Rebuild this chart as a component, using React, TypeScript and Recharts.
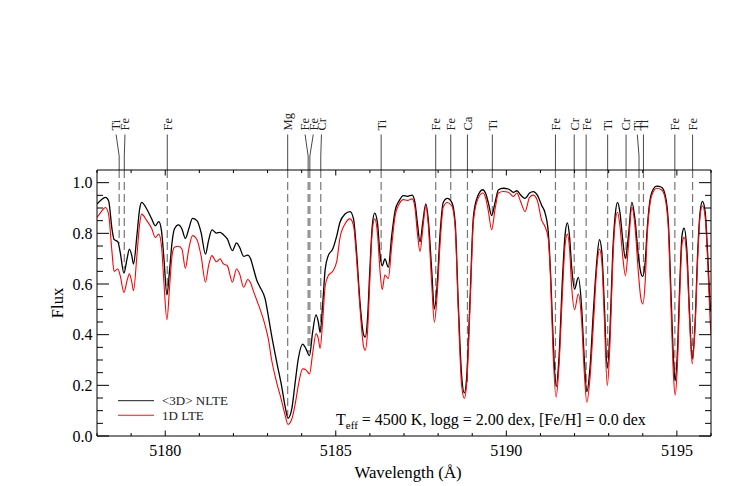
import React from 'react';
import { LineChart, Line, XAxis, YAxis, ReferenceLine, ReferenceDot } from 'recharts';

const FONT = '"Liberation Serif", "Times New Roman", Times, serif';

// Spectrum sampling (Å) and fluxes
const wavelength = [
  5178.0, 5178.12, 5178.25, 5178.34, 5178.44, 5178.5, 5178.61, 5178.68, 5178.79, 5178.88,
  5178.95, 5179.02, 5179.07, 5179.17, 5179.25, 5179.31, 5179.45, 5179.6, 5179.71, 5179.81,
  5179.89, 5179.96, 5180.05, 5180.13, 5180.2, 5180.27, 5180.39, 5180.49, 5180.59, 5180.69,
  5180.8, 5180.93, 5181.05, 5181.18, 5181.27, 5181.37, 5181.5, 5181.61, 5181.7, 5181.82,
  5181.97, 5182.09, 5182.18, 5182.3, 5182.42, 5182.5, 5182.59, 5182.69, 5182.78, 5182.93,
  5183.02, 5183.12, 5183.27, 5183.41, 5183.51, 5183.6, 5183.71, 5183.81, 5183.9, 5184.03,
  5184.13, 5184.23, 5184.32, 5184.42, 5184.49, 5184.54, 5184.62, 5184.69, 5184.78, 5184.91,
  5185.03, 5185.12, 5185.27, 5185.42, 5185.52, 5185.61, 5185.71, 5185.81, 5185.86, 5185.93,
  5186.0, 5186.07, 5186.14, 5186.22, 5186.3, 5186.36, 5186.44, 5186.54, 5186.64, 5186.74,
  5186.86, 5186.98, 5187.1, 5187.24, 5187.32, 5187.39, 5187.47, 5187.55, 5187.64, 5187.71,
  5187.81, 5187.89, 5187.97, 5188.06, 5188.15, 5188.27, 5188.4, 5188.5, 5188.59, 5188.69,
  5188.77, 5188.84, 5188.94, 5189.03, 5189.13, 5189.31, 5189.4, 5189.47, 5189.57, 5189.67,
  5189.77, 5189.91, 5190.06, 5190.21, 5190.31, 5190.42, 5190.55, 5190.68, 5190.79, 5190.91,
  5191.04, 5191.13, 5191.23, 5191.3, 5191.37, 5191.46, 5191.54, 5191.65, 5191.72, 5191.79,
  5191.85, 5191.92, 5192.0, 5192.11, 5192.21, 5192.28, 5192.36, 5192.45, 5192.55, 5192.65,
  5192.73, 5192.8, 5192.87, 5192.96, 5193.04, 5193.12, 5193.19, 5193.26, 5193.33, 5193.41,
  5193.49, 5193.58, 5193.68, 5193.77, 5193.87, 5193.94, 5194.0, 5194.07, 5194.13, 5194.21,
  5194.31, 5194.41, 5194.55, 5194.65, 5194.75, 5194.83, 5194.9, 5194.95, 5195.01, 5195.09,
  5195.15, 5195.21, 5195.29, 5195.37, 5195.45, 5195.53, 5195.61, 5195.68, 5195.75, 5195.83,
  5195.9, 5195.97, 5196.0,
];

const flux3DNLTE = [
  0.916, 0.932, 0.942, 0.929, 0.817, 0.776, 0.767, 0.725, 0.643, 0.699,
  0.738, 0.712, 0.679, 0.791, 0.896, 0.922, 0.898, 0.858, 0.83, 0.846,
  0.811, 0.705, 0.557, 0.659, 0.764, 0.817, 0.833, 0.817, 0.78, 0.817,
  0.859, 0.85, 0.804, 0.718, 0.771, 0.814, 0.801, 0.804, 0.795, 0.778,
  0.732, 0.762, 0.745, 0.709, 0.714, 0.701, 0.659, 0.613, 0.587, 0.541,
  0.475, 0.396, 0.291, 0.199, 0.12, 0.07, 0.107, 0.212, 0.304, 0.363,
  0.343, 0.317, 0.409, 0.478, 0.449, 0.409, 0.528, 0.659, 0.712, 0.738,
  0.791, 0.843, 0.876, 0.886, 0.857, 0.725, 0.528, 0.403, 0.39, 0.462,
  0.659, 0.83, 0.88, 0.843, 0.712, 0.672, 0.699, 0.666, 0.791, 0.89,
  0.929, 0.949, 0.946, 0.951, 0.922, 0.843, 0.767, 0.843, 0.916, 0.857,
  0.659, 0.501, 0.593, 0.804, 0.922, 0.938, 0.922, 0.843, 0.528, 0.238,
  0.17, 0.238, 0.554, 0.857, 0.935, 0.972, 0.955, 0.922, 0.87, 0.922,
  0.972, 0.978, 0.975, 0.962, 0.968, 0.951, 0.938, 0.959, 0.965, 0.951,
  0.909, 0.883, 0.804, 0.633, 0.39, 0.195, 0.3, 0.633, 0.791, 0.841,
  0.791, 0.659, 0.58, 0.626, 0.501, 0.317, 0.175, 0.264, 0.488, 0.686,
  0.775, 0.725, 0.528, 0.267, 0.422, 0.725, 0.87, 0.922, 0.883, 0.778,
  0.701, 0.791, 0.922, 0.857, 0.712, 0.646, 0.63, 0.686, 0.817, 0.929,
  0.975, 0.986, 0.982, 0.955, 0.843, 0.554, 0.304, 0.218, 0.317, 0.62,
  0.791, 0.82, 0.738, 0.488, 0.304, 0.435, 0.725, 0.883, 0.926, 0.883,
  0.725, 0.53, 0.49,
];

const flux1DLTE = [
  0.863, 0.885, 0.902, 0.875, 0.725, 0.65, 0.659, 0.633, 0.567, 0.613,
  0.64, 0.607, 0.574, 0.712, 0.837, 0.876, 0.852, 0.82, 0.784, 0.797,
  0.751, 0.61, 0.459, 0.593, 0.712, 0.745, 0.749, 0.738, 0.662, 0.738,
  0.791, 0.775, 0.712, 0.607, 0.672, 0.712, 0.688, 0.699, 0.68, 0.672,
  0.607, 0.659, 0.64, 0.587, 0.618, 0.605, 0.57, 0.534, 0.501, 0.436,
  0.385, 0.3, 0.21, 0.14, 0.085, 0.046, 0.067, 0.126, 0.199, 0.265,
  0.26, 0.245, 0.324, 0.403, 0.383, 0.346, 0.462, 0.593, 0.633, 0.65,
  0.69, 0.78, 0.837, 0.857, 0.83, 0.7, 0.505, 0.357, 0.339, 0.409,
  0.62, 0.811, 0.857, 0.804, 0.646, 0.578, 0.635, 0.622, 0.751, 0.87,
  0.916, 0.933, 0.93, 0.936, 0.903, 0.804, 0.728, 0.817, 0.909, 0.837,
  0.607, 0.449, 0.554, 0.764, 0.903, 0.922, 0.909, 0.824, 0.501, 0.199,
  0.149, 0.212, 0.528, 0.837, 0.922, 0.959, 0.936, 0.89, 0.814, 0.896,
  0.959, 0.965, 0.962, 0.946, 0.959, 0.925, 0.886, 0.942, 0.951, 0.929,
  0.85, 0.828, 0.778, 0.607, 0.33, 0.153, 0.27, 0.58, 0.751, 0.797,
  0.745, 0.58, 0.499, 0.56, 0.449, 0.264, 0.133, 0.225, 0.435, 0.659,
  0.738, 0.686, 0.475, 0.199, 0.37, 0.686, 0.843, 0.883, 0.83, 0.712,
  0.633, 0.751, 0.903, 0.83, 0.646, 0.547, 0.521, 0.607, 0.791, 0.916,
  0.965, 0.978, 0.972, 0.942, 0.817, 0.501, 0.238, 0.162, 0.264, 0.58,
  0.758, 0.784, 0.705, 0.462, 0.284, 0.422, 0.699, 0.87, 0.909, 0.863,
  0.699, 0.47, 0.4,
];

// Line identifications
const lineElements = ['Ti', 'Fe', 'Fe', 'Mg', 'Fe', 'Fe', 'Cr', 'Ti', 'Fe', 'Fe', 'Ca', 'Ti', 'Fe', 'Cr', 'Fe', 'Ti', 'Cr', 'Ti', 'Ti', 'Fe', 'Fe'];
const lineCenters = [5178.65, 5178.8, 5180.06, 5183.59, 5184.19, 5184.24, 5184.56, 5186.33, 5187.93, 5188.37, 5188.86, 5189.59, 5191.44, 5191.99, 5192.34, 5192.97, 5193.51, 5193.89, 5194.02, 5194.94, 5195.46];
const labelPositions = [5178.56, 5178.82, 5180.06, 5183.59, 5184.1, 5184.34, 5184.58, 5186.33, 5187.93, 5188.37, 5188.86, 5189.59, 5191.44, 5191.99, 5192.34, 5192.97, 5193.51, 5193.84, 5194.02, 5194.94, 5195.46];
const lineDepths = [0.76, 0.66, 0.56, 0.08, 0.33, 0.33, 0.41, 0.68, 0.53, 0.93, 0.2, 0.87, 0.2, 0.58, 0.18, 0.27, 0.7, 0.67, 0.63, 0.22, 0.31];

// Axis ticks
const xTicks = [5178, 5179, 5180, 5181, 5182, 5183, 5184, 5185, 5186, 5187, 5188, 5189, 5190, 5191, 5192, 5193, 5194, 5195, 5196];
const xMajorTicks = [5180, 5185, 5190, 5195];
const yTicks = [0, 0.05, 0.1, 0.15, 0.2, 0.25, 0.3, 0.35, 0.4, 0.45, 0.5, 0.55, 0.6, 0.65, 0.7, 0.75, 0.8, 0.85, 0.9, 0.95, 1.0];
const yMajorTicks = [0, 0.2, 0.4, 0.6, 0.8, 1.0];

const X_DOMAIN: [number, number] = [5178, 5196];
const Y_DOMAIN: [number, number] = [0, 1.05];
const Y_TOP = 1.05;
const Y_LABEL = 1.206;
const Y_CONN_START = 1.19;
const Y_CONN_BEND = 1.105;

const data = wavelength.map((w, i) => ({ w, nlte: flux3DNLTE[i], lte: flux1DLTE[i] }));

const isMajorY = (v: number) => yMajorTicks.some((m) => Math.abs(m - v) < 1e-6);

const BottomTick = (props: any) => {
  const { x, y, payload } = props;
  const v = payload.value;
  const major = xMajorTicks.includes(v);
  return (
    <g>
      <line x1={x} y1={y} x2={x} y2={y - (major ? 5.5 : 3)} stroke="#000" strokeWidth={1} />
      {major && (
        <text x={x} y={y + 20} textAnchor="middle" fontSize={16} fontFamily={FONT} fill="#000">
          {v}
        </text>
      )}
    </g>
  );
};

const TopTick = (props: any) => {
  const { x, y, payload } = props;
  const major = xMajorTicks.includes(payload.value);
  return <line x1={x} y1={y} x2={x} y2={y + (major ? 5.5 : 3)} stroke="#000" strokeWidth={1} />;
};

const LeftTick = (props: any) => {
  const { x, y, payload } = props;
  const v = payload.value;
  const major = isMajorY(v);
  return (
    <g>
      <line x1={x} y1={y} x2={x + (major ? 12 : 6)} y2={y} stroke="#000" strokeWidth={1} />
      {major && (
        <text x={x - 4.5} y={y + 5.5} textAnchor="end" fontSize={16} fontFamily={FONT} fill="#000">
          {v.toFixed(1)}
        </text>
      )}
    </g>
  );
};

const RightTick = (props: any) => {
  const { x, y, payload } = props;
  const major = isMajorY(payload.value);
  return <line x1={x} y1={y} x2={x - (major ? 12 : 6)} y2={y} stroke="#000" strokeWidth={1} />;
};

export default function App() {
  return (
    <LineChart
      width={739}
      height={478}
      data={data}
      margin={{ top: 132, right: 6, bottom: 20, left: 29 }}
      style={{ fontFamily: FONT }}
    >
      <XAxis
        dataKey="w"
        type="number"
        domain={X_DOMAIN}
        allowDataOverflow
        ticks={xTicks}
        interval={0}
        height={30}
        tickSize={0}
        tickMargin={0}
        tickLine={false}
        tick={BottomTick}
        axisLine={{ stroke: '#000', strokeWidth: 1 }}
      />
      <XAxis
        xAxisId="top"
        orientation="top"
        dataKey="w"
        type="number"
        domain={X_DOMAIN}
        allowDataOverflow
        ticks={xTicks}
        interval={0}
        height={30}
        tickSize={0}
        tickMargin={0}
        tickLine={false}
        tick={TopTick}
        axisLine={{ stroke: '#000', strokeWidth: 1 }}
      />
      <YAxis
        type="number"
        domain={Y_DOMAIN}
        allowDataOverflow
        ticks={yTicks}
        interval={0}
        width={60}
        tickSize={0}
        tickMargin={0}
        tickLine={false}
        tick={LeftTick}
        axisLine={{ stroke: '#000', strokeWidth: 1 }}
      />
      <YAxis
        yAxisId="right"
        orientation="right"
        type="number"
        domain={Y_DOMAIN}
        allowDataOverflow
        ticks={yTicks}
        interval={0}
        width={30}
        tickSize={0}
        tickMargin={0}
        tickLine={false}
        tick={RightTick}
        axisLine={{ stroke: '#000', strokeWidth: 1 }}
      />

      {lineCenters.map((c, i) => (
        <ReferenceLine
          key={'dash' + i}
          segment={[{ x: c, y: Y_TOP }, { x: c, y: lineDepths[i] }]}
          stroke="#777"
          strokeWidth={1.2}
          strokeDasharray="8 4"
          ifOverflow="visible"
        />
      ))}
      {lineCenters.map((c, i) => (
        <ReferenceLine
          key={'conn' + i}
          segment={[{ x: labelPositions[i], y: Y_CONN_START }, { x: c, y: Y_CONN_BEND }]}
          stroke="#333"
          strokeWidth={0.9}
          ifOverflow="visible"
        />
      ))}
      {lineCenters.map((c, i) => (
        <ReferenceLine
          key={'vert' + i}
          segment={[{ x: c, y: Y_CONN_BEND }, { x: c, y: Y_TOP }]}
          stroke="#333"
          strokeWidth={0.9}
          ifOverflow="visible"
        />
      ))}
      {labelPositions.map((p, i) => (
        <ReferenceDot
          key={'lab' + i}
          x={p}
          y={Y_LABEL}
          r={0}
          ifOverflow="visible"
          shape={(props: any) => (
            <text
              transform={`translate(${props.cx},${props.cy}) rotate(-90)`}
              dy="0.35em"
              textAnchor="start"
              fontSize={12.5}
              fontFamily={FONT}
              fill="#222"
            >
              {lineElements[i]}
            </text>
          )}
        />
      ))}

      <Line
        dataKey="nlte"
        type="monotone"
        stroke="#000"
        strokeWidth={1.3}
        dot={false}
        activeDot={false}
        isAnimationActive={false}
      />
      <Line
        dataKey="lte"
        type="monotone"
        stroke="#ff0000"
        strokeWidth={1.1}
        dot={false}
        activeDot={false}
        isAnimationActive={false}
      />

      {/* axis titles */}
      <text transform="translate(49,295) rotate(-90)" dy="0.35em" textAnchor="middle" fontSize={16.5} fontFamily={FONT} fill="#000">
        Flux
      </text>
      <text x={400} y={469.5} textAnchor="middle" fontSize={16.8} fontFamily={FONT} fill="#000">
        Wavelength (Å)
      </text>

      {/* legend */}
      <line x1={110} y1={392.7} x2={146} y2={392.7} stroke="#000" strokeWidth={0.9} />
      <text x={154} y={397.2} fontSize={13} fontFamily={FONT} fill="#222">
        {'<3D> NLTE'}
      </text>
      <line x1={110} y1={407.3} x2={146} y2={407.3} stroke="#ff0000" strokeWidth={0.9} />
      <text x={154} y={411.8} fontSize={13} fontFamily={FONT} fill="#222">
        1D LTE
      </text>

      {/* annotation */}
      <text x={328} y={417} fontSize={16} fontFamily={FONT} fill="#000">
        T<tspan fontSize={11} dy={4}>eff</tspan>
        <tspan dy={-4}>{' = 4500 K, logg = 2.00 dex, [Fe/H] = 0.0 dex'}</tspan>
      </text>
    </LineChart>
  );
}
